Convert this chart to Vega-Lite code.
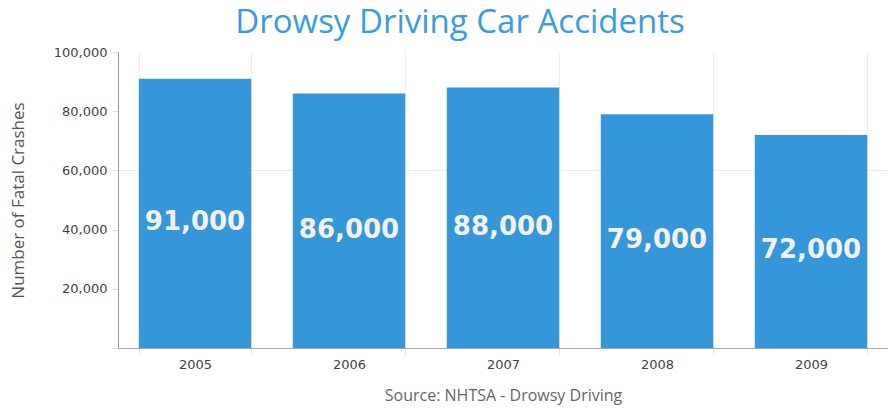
{
  "$schema": "https://vega.github.io/schema/vega-lite/v6.json",
  "width": 770,
  "height": 296,
  "autosize": "none",
  "padding": {"left": 118, "top": 52, "right": 0, "bottom": 63},
  "background": "white",
  "view": {"stroke": null},
  "title": {
    "text": "Drowsy Driving Car Accidents",
    "font": "Open Sans",
    "fontSize": 33,
    "fontWeight": 500,
    "color": "#3a9be0",
    "anchor": "middle",
    "frame": "group",
    "dx": -43,
    "offset": 6
  },
  "data": {
    "values": [
      {"year": "2005", "crashes": 91000, "label": "91,000"},
      {"year": "2006", "crashes": 86000, "label": "86,000"},
      {"year": "2007", "crashes": 88000, "label": "88,000"},
      {"year": "2008", "crashes": 79000, "label": "79,000"},
      {"year": "2009", "crashes": 72000, "label": "72,000"}
    ]
  },
  "encoding": {
    "x": {
      "field": "year",
      "type": "nominal",
      "scale": {"paddingInner": 0.27, "paddingOuter": 0.135},
      "axis": {
        "labelAngle": 0,
        "labelFont": "DejaVu Sans",
        "labelFontSize": 13,
        "labelColor": "#444",
        "labelPadding": 3,
        "tickBand": "extent",
        "ticks": true,
        "tickColor": "#e4e4e4",
        "tickSize": 7,
        "grid": true,
        "gridColor": "#ececec",
        "domainColor": "#aaaaaa",
        "title": "Source: NHTSA - Drowsy Driving",
        "titleFont": "Open Sans",
        "titleFontSize": 16,
        "titleFontWeight": "normal",
        "titleColor": "#666",
        "titlePadding": 16
      }
    }
  },
  "resolve": {"scale": {"y": "independent"}},
  "layer": [
    {
      "mark": {"type": "bar", "color": "#3597da"},
      "encoding": {
        "y": {
          "field": "crashes",
          "type": "quantitative",
          "scale": {"domain": [0, 100000]},
          "axis": {
            "values": [0, 20000, 40000, 60000, 80000, 100000],
            "labelExpr": "datum.value === 0 ? '' : format(datum.value, ',')",
            "labelFont": "DejaVu Sans",
            "labelFontSize": 13,
            "labelColor": "#444",
            "labelPadding": 5,
            "tickColor": "#dddddd",
            "tickSize": 6,
            "domainColor": "#999999",
            "grid": true,
            "gridColor": {"condition": {"test": "datum.value === 60000", "value": "#ececec"}, "value": "transparent"},
            "title": "Number of Fatal Crashes",
            "titleFont": "Open Sans",
            "titleFontSize": 17,
            "titleFontWeight": "normal",
            "titleColor": "#555",
            "titleX": -100,
            "titleY": 148,
            "titleBaseline": "middle"
          }
        }
      }
    },
    {
      "mark": {
        "type": "text",
        "font": "DejaVu Sans",
        "fontSize": 26,
        "fontWeight": "bold",
        "color": "#f2f2f2",
        "baseline": "middle",
        "dy": 9
      },
      "encoding": {
        "y": {
          "field": "crashes",
          "type": "quantitative",
          "scale": {"domain": [0, 200000]},
          "axis": null
        },
        "text": {"field": "label"}
      }
    }
  ]
}
